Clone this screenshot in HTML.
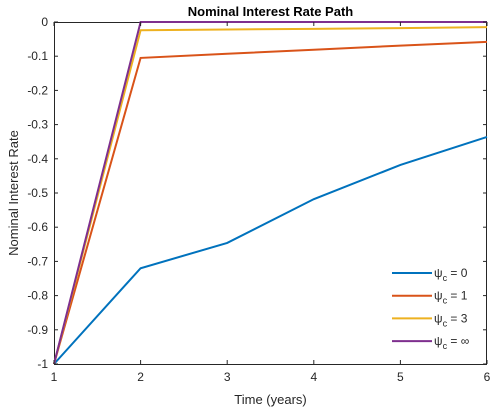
<!DOCTYPE html>
<html><head><meta charset="utf-8"><style>body{margin:0;background:#fff}svg{display:block;font-family:"Liberation Sans",sans-serif}</style></head>
<body>
<svg id="chart" width="499" height="411"></svg>
<script>
const years = [1, 2, 3, 4, 5, 6];
const psi0 = [-1, -0.72, -0.646, -0.518, -0.418, -0.336];
const psi1 = [-1, -0.105, -0.093, -0.081, -0.069, -0.058];
const psi3 = [-1, -0.024, -0.022, -0.02, -0.018, -0.015];
const psiInf = [-1, 0, 0, 0, 0, 0];
const seriesLabels = ["0", "1", "3", "\u221e"];
const xTicks = [1, 2, 3, 4, 5, 6];
const yTicks = [0, -0.1, -0.2, -0.3, -0.4, -0.5, -0.6, -0.7, -0.8, -0.9, -1];

const L = 54, R = 487, T = 22, B = 364;
const xs = v => L + (v - 1) / 5 * (R - L);
const ys = v => T + (0 - v) / 1 * (B - T);
const NS = "http://www.w3.org/2000/svg";
const svg = document.getElementById("chart");
function mk(tag, attrs, parent) {
  const e = document.createElementNS(NS, tag);
  for (const k in attrs) e.setAttribute(k, attrs[k]);
  (parent || svg).appendChild(e);
  return e;
}
const bg = mk("rect", {x: L, y: T, width: R - L, height: B - T, fill: "#fff", stroke: "none"});



const box = mk("rect", {x: L + 0.5, y: T + 0.5, width: R - L - 1, height: B - T, fill: "none", stroke: "#262626", "stroke-width": 1});



const colors = ["#0072BD", "#D95319", "#EDB120", "#7E2F8E"];
const all = [psi0, psi1, psi3, psiInf];
all.forEach((s, i) => {
  const p = mk("polyline", {points: s.map((v, j) => xs(years[j]) + "," + ys(v)).join(" "), fill: "none", stroke: colors[i], "stroke-width": 2});
  
  
});

xTicks.forEach(t => {
  const x = xs(t);
  mk("line", {x1: x, x2: x, y1: B, y2: B - 4, stroke: "#262626"});
  mk("line", {x1: x, x2: x, y1: T, y2: T + 4, stroke: "#262626"});
  const tx = mk("text", {x: x, y: B + 17, "text-anchor": "middle", "font-size": 12, fill: "#262626"});
  tx.textContent = t;
  
  
});
yTicks.forEach(t => {
  const y = ys(t);
  mk("line", {x1: L, x2: L + 4, y1: y, y2: y, stroke: "#262626"});
  mk("line", {x1: R, x2: R - 4, y1: y, y2: y, stroke: "#262626"});
  const tx = mk("text", {x: L - 6, y: y + 4, "text-anchor": "end", "font-size": 12, fill: "#262626"});
  tx.textContent = String(t);
  
  
});

const title = mk("text", {x: (L + R) / 2, y: 16, "text-anchor": "middle", "font-size": 13, "font-weight": "bold", fill: "#000"});
title.textContent = "Nominal Interest Rate Path";


const xl = mk("text", {x: (L + R) / 2, y: 404, "text-anchor": "middle", "font-size": 13, fill: "#262626"});
xl.textContent = "Time (years)";


const yl = mk("text", {x: 0, y: 0, "text-anchor": "middle", "font-size": 13, fill: "#262626", transform: "translate(18," + (T + B) / 2 + ") rotate(-90)"});
yl.textContent = "Nominal Interest Rate";



seriesLabels.forEach((lab, i) => {
  const y = 273 + i * 22.7;
  const g = mk("g", {});
  
  
  mk("line", {x1: 392, x2: 432, y1: y, y2: y, stroke: colors[i], "stroke-width": 2}, g);
  const t = mk("text", {x: 434, y: y + 4, "font-size": 12, fill: "#262626"}, g);
  t.innerHTML = '\u03c8<tspan font-size="9" dy="4">c</tspan><tspan dy="-4"> = ' + lab + '</tspan>';
});
</script>
</body></html>
